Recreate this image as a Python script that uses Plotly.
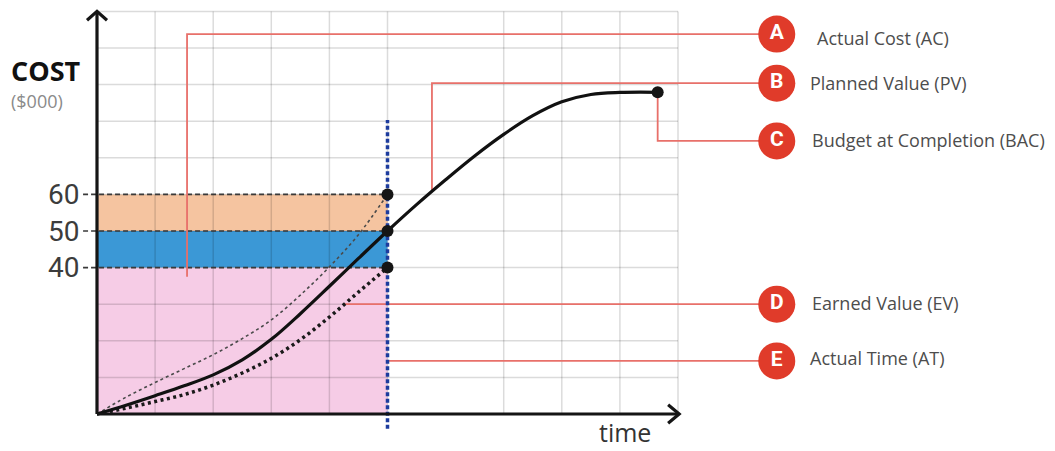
import numpy as np
import plotly.graph_objects as go

# ---------------- data ----------------
pv_t = [0, 0.5, 1, 1.5, 2, 2.5, 3, 3.5, 4, 4.5, 5, 5.5, 6, 6.5, 7, 7.5, 8, 8.5, 9, 9.65]
pv_cost = [0, 2.4, 5, 7.7, 10.7, 14.8, 20.4, 27.4, 34.9, 42.5, 50, 57.2, 64, 70.5, 76.4,
           81.5, 85.3, 87.3, 87.85, 87.9]

ac_t = [0, 0.5, 1, 1.5, 2, 2.5, 3, 3.5, 4, 4.5, 5]
ac_cost = [0, 4.6, 8.6, 12.4, 16.2, 20.6, 25.7, 32.5, 40.2, 49, 60]

ev_t = [0, 0.5, 1, 1.5, 2, 2.5, 3, 3.5, 4, 4.5, 5]
ev_cost = [0, 1.6, 3.4, 5.3, 7.9, 11.2, 15.2, 20.3, 26.5, 33.3, 40]

at_time = 5
ac_at = 60
pv_at = 50
ev_at = 40
level_ticks = [60, 50, 40]

callout_letters = ["A", "B", "C", "D", "E"]
callout_labels = ["Actual Cost (AC)", "Planned Value (PV)", "Budget at Completion (BAC)",
                  "Earned Value (EV)", "Actual Time (AT)"]

grid_t = [1, 2, 3, 4, 5, 7, 8, 9, 10]
grid_cost = [10, 20, 30, 40, 50, 60, 70, 80, 90, 100, 110]

# ---------------- layout constants ----------------
W, H = 1055, 451
X0PX, XSC = 97, 58.1      # pixel of t=0, px per time unit
Y0PX, YSC = 414, 3.66     # pixel of cost=0, px per cost unit
x_range = [-X0PX / XSC, (W - X0PX) / XSC]
y_range = [-(H - Y0PX) / YSC, Y0PX / YSC]

T_MAX, C_MAX = 10, 110
circle_x = 11.70
callout_y = [103.8, 90.4, 74.6, 30.0, 14.5]
text_x = [12.36, 12.24, 12.28, 12.28, 12.24]
text_dy = [-1.0, 0, 0.3, 0.3, 0.8]

RED_LINE = "#e8706a"
RED_DOT = "#e03b2a"
GRID = "rgba(0,0,0,0.14)"
FONT = "Roboto"
LFONT = "Open Sans"

fig = go.Figure()

# ---- colored areas ----
def rect(c0, c1, color):
    fig.add_trace(go.Scatter(x=[0, at_time, at_time, 0, 0], y=[c0, c0, c1, c1, c0],
                             fill="toself", fillcolor=color, mode="lines",
                             line=dict(width=0), hoverinfo="skip"))

rect(0, ev_at, "#f6cce6")
rect(ev_at, pv_at, "#3b98d6")
rect(pv_at, ac_at, "#f5c4a0")

# ---- grid ----
gx, gy = [], []
for t in grid_t:
    gx += [t, t, None]
    gy += [0, C_MAX, None]
for c in grid_cost:
    gx += [0, T_MAX, None]
    gy += [c, c, None]
fig.add_trace(go.Scatter(x=gx, y=gy, mode="lines", line=dict(color=GRID, width=1.5),
                         hoverinfo="skip"))

# ---- dashed level lines ----
for c in level_ticks:
    fig.add_trace(go.Scatter(x=[-0.24, at_time], y=[c, c], mode="lines",
                             line=dict(color="#3a3a3a", width=1.6, dash="5px,3px"),
                             hoverinfo="skip"))

# ---- callout leader lines ----
xb = 5.765
yb = float(np.interp(xb, pv_t, pv_cost))
xd = float(np.interp(callout_y[3], ev_cost, ev_t))
paths = [
    ([1.55, 1.55, circle_x], [37.5, callout_y[0], callout_y[0]]),
    ([xb, xb, circle_x], [yb, callout_y[1], callout_y[1]]),
    ([pv_t[-1], pv_t[-1], circle_x], [pv_cost[-1], callout_y[2], callout_y[2]]),
    ([xd, circle_x], [callout_y[3], callout_y[3]]),
    ([at_time, circle_x], [callout_y[4], callout_y[4]]),
]
for px_, py_ in paths:
    fig.add_trace(go.Scatter(x=px_, y=py_, mode="lines",
                             line=dict(color=RED_LINE, width=1.8), hoverinfo="skip"))

# ---- curves ----
fig.add_trace(go.Scatter(x=ac_t, y=ac_cost, mode="lines",
                         line=dict(color="#4a4a4a", width=1.6, dash="3px,3px",
                                   shape="spline", smoothing=1), hoverinfo="skip"))
fig.add_trace(go.Scatter(x=ev_t, y=ev_cost, mode="lines",
                         line=dict(color="#1a1a1a", width=3.5, dash="3px,3.5px",
                                   shape="spline", smoothing=1), hoverinfo="skip"))
fig.add_trace(go.Scatter(x=pv_t, y=pv_cost, mode="lines",
                         line=dict(color="#111111", width=3.2, shape="spline", smoothing=1),
                         hoverinfo="skip"))

# ---- actual time line ----
fig.add_trace(go.Scatter(x=[at_time, at_time], y=[-4.0, 80.3], mode="lines",
                         line=dict(color="#1d3c9e", width=3.5, dash="4px,2.5px"), hoverinfo="skip"))

# ---- axes with arrows ----
ax_x = [None, 0, 0, None, -0.172, 0, 0.172, None, 0, 10.02, None, 9.83, 10.02, 9.83]
ax_y = [None, 0, 110.0, None, 107.6, 110.0, 107.6, None, 0, 0, None, 2.5, 0, -2.5]
fig.add_trace(go.Scatter(x=ax_x, y=ax_y, mode="lines", line=dict(color="#151515", width=3.2),
                         hoverinfo="skip"))

# ---- key points ----
fig.add_trace(go.Scatter(x=[at_time, at_time, at_time, pv_t[-1]],
                         y=[ac_at, pv_at, ev_at, pv_cost[-1]], mode="markers",
                         marker=dict(color="#151515", size=12), hoverinfo="skip"))

# ---- callout circles ----
fig.add_trace(go.Scatter(x=[circle_x] * 5, y=callout_y, mode="markers+text",
                         text=callout_letters, textposition="middle center",
                         textfont=dict(family=FONT, size=21, color="white", weight="bold"),
                         marker=dict(color=RED_DOT, size=37), hoverinfo="skip"))

annotations = []
for lab, tx, cy, dy in zip(callout_labels, text_x, callout_y, text_dy):
    annotations.append(dict(x=tx, y=cy + dy, text=lab, showarrow=False, xanchor="left",
                            yanchor="middle", font=dict(family=LFONT, size=18, color="#4d4d4d")))
for c in level_ticks:
    annotations.append(dict(x=-0.28, y=c, text=str(c), showarrow=False, xanchor="right",
                            yanchor="middle", font=dict(family=FONT, size=28, color="#3c3c3c")))
annotations.append(dict(x=-1.50, y=(Y0PX - 70.5) / YSC, text="<b>COST</b>", showarrow=False,
                        xanchor="left", yanchor="middle", borderpad=0,
                        font=dict(family=LFONT, size=27, color="#111111")))
annotations.append(dict(x=-1.50, y=(Y0PX - 101) / YSC, text="($000)", showarrow=False,
                        xanchor="left", yanchor="middle", borderpad=0,
                        font=dict(family=LFONT, size=18, color="#8a8a8a")))
annotations.append(dict(x=(625 - X0PX) / XSC, y=(Y0PX - 450) / YSC, text="time", showarrow=False,
                        xanchor="center", yanchor="bottom", borderpad=0,
                        font=dict(family=LFONT, size=25, color="#333333")))

fig.update_layout(
    width=W, height=H, margin=dict(l=0, r=0, t=0, b=0),
    paper_bgcolor="white", plot_bgcolor="white", showlegend=False,
    xaxis=dict(range=x_range, visible=False, fixedrange=True),
    yaxis=dict(range=y_range, visible=False, fixedrange=True),
    annotations=annotations,
)

fig.write_html("out.html")
